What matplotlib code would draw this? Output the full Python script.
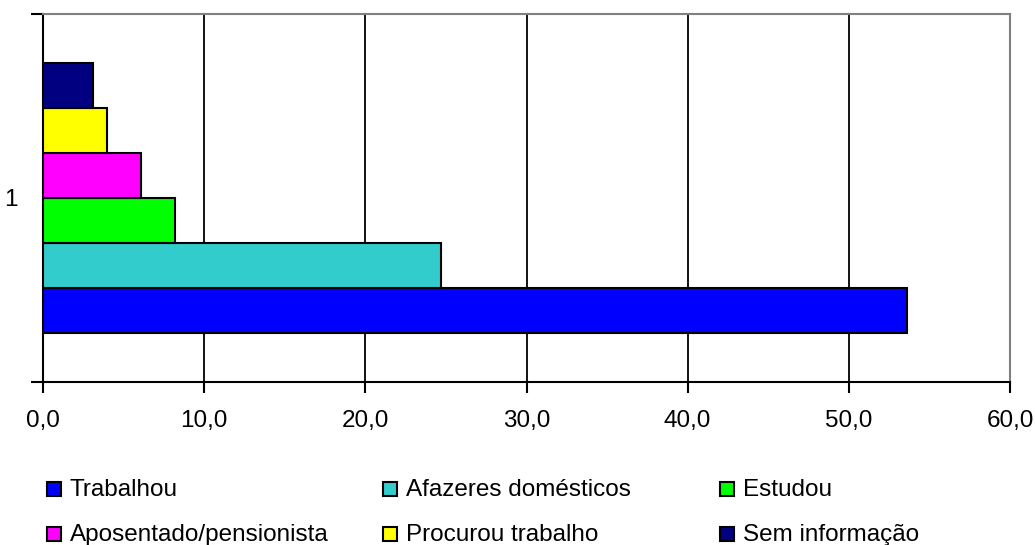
import matplotlib.pyplot as plt
from matplotlib.patches import Rectangle

plt.rcParams['font.family'] = ['Liberation Sans', 'DejaVu Sans']

# dados
categorias = ['Trabalhou', 'Afazeres domésticos', 'Estudou',
              'Aposentado/pensionista', 'Procurou trabalho', 'Sem informação']
valores = [53.6, 24.7, 8.2, 6.1, 4.0, 3.1]
cores = ['#0000FF', '#33CCCC', '#00FF00', '#FF00FF', '#FFFF00', '#000080']
xticks = [0, 10, 20, 30, 40, 50, 60]

fig = plt.figure(figsize=(10.35, 5.45), dpi=100)
ax = fig.add_axes([43/1035, 1-382/545, (1010-43)/1035, (382-14)/545])

h = 0.1223
n = len(valores)
for i, (v, c) in enumerate(zip(valores, cores)):
    y = 1 - (n-1)/2*h + i*h
    ax.barh(y, v, height=h, color=c, edgecolor='black', linewidth=1.5, zorder=3)

ax.set_xlim(0, 60)
ax.set_ylim(0.5, 1.5)
ax.set_xticks(xticks)
ax.set_xticklabels(['{:.1f}'.format(t).replace('.', ',') for t in xticks], fontsize=17.5)
ax.xaxis.grid(True, color='black', linewidth=1.3, zorder=0)
ax.tick_params(axis='x', length=8, width=1.5, pad=12)

ax.set_yticks([1])
ax.set_yticklabels(['1'], fontsize=17.5)
ax.set_yticks([0.5, 1.5], minor=True)
ax.tick_params(axis='y', which='major', length=0, pad=18)
ax.tick_params(axis='y', which='minor', length=9, width=1.5)

for s in ['left', 'bottom']:
    ax.spines[s].set_linewidth(1.5)
for s in ['top', 'right']:
    ax.spines[s].set_color('#808080')
    ax.spines[s].set_linewidth(1.5)

# legenda manual
pos_x = [47, 383, 720]
pos_y = [489, 534]
for i, (nome, c) in enumerate(zip(categorias, cores)):
    px = pos_x[i % 3]
    py = pos_y[i // 3]
    fig.patches.append(Rectangle((px/1035, 1-(py+7)/545), 14/1035, 14/545,
                                 transform=fig.transFigure, facecolor=c,
                                 edgecolor='black', linewidth=1.5))
    fig.text((px+23)/1035, 1-(py+1)/545, nome, fontsize=17.5, va='center', ha='left')

plt.savefig('out.png', dpi=100)
